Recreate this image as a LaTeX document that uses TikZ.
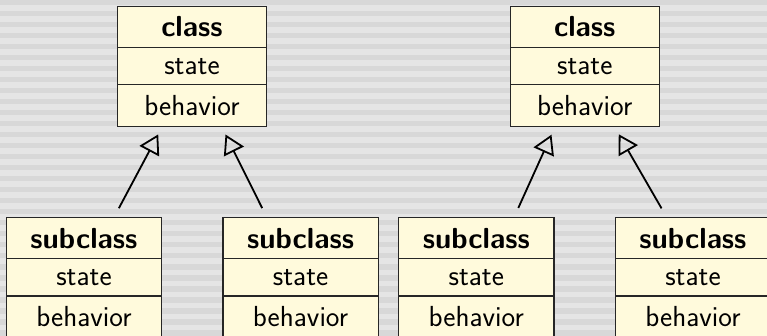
\documentclass[tikz,border=0pt]{standalone}
\usetikzlibrary{arrows.meta,calc}
\definecolor{boxfill}{RGB}{255,250,220}
\definecolor{stripeA}{RGB}{229,229,229}
\definecolor{stripeB}{RGB}{216,216,216}
\tikzset{
  comp/.style={draw=black!85, line width=1.2pt, fill=boxfill, inner sep=0pt, anchor=north west,
    font=\sffamily\fontsize{29}{34}\selectfont},
  topw/.style={comp, minimum width=149.3pt},
  botw/.style={comp, minimum width=155.3pt},
  ttl/.style={minimum height=41.6pt, font=\sffamily\bfseries\fontsize{29}{34}\selectfont},
  mid/.style={minimum height=37pt},
  low/.style={minimum height=41.4pt},
  inh/.style={line width=1.8pt, -{Triangle[open,length=19pt,width=22pt,line width=1.8pt]}},
}
\begin{document}
\begin{tikzpicture}[x=1pt,y=-1pt]
\useasboundingbox (0,0) rectangle (767,336);
\clip (0,0) rectangle (767,336);
\fill[stripeA] (0,0) rectangle (767,336);
\foreach \i in {0,...,31} \fill[stripeB] (0,\i*11) rectangle (767,\i*11+5.5);
% top-left class
\node[topw,ttl] (c1t) at (116.7,5.7) {class};
\node[topw,mid] (c1s) at (116.7,47.3) {state};
\node[topw,low] (c1b) at (116.7,84.3) {behavior};
% top-right class
\node[topw,ttl] (c2t) at (509.5,5.7) {class};
\node[topw,mid] (c2s) at (509.5,47.3) {state};
\node[topw,low] (c2b) at (509.5,84.3) {behavior};
% subclasses
\foreach \n/\x in {s1/5.7, s2/222.3, s3/398, s4/614.7}{
  \node[botw,ttl] (\n t) at (\x,216.7) {subclass};
  \node[botw,mid] (\n s) at (\x,258) {state};
  \node[botw,low] (\n b) at (\x,295.3) {behavior};
}
% inheritance arrows
\draw[inh, shorten <=9.6pt, shorten >=8.5pt] ([xshift=30.4pt]s1t.north) -- ([xshift=-29.75pt]c1b.south);
\draw[inh, shorten <=9.6pt, shorten >=8.5pt] ([xshift=-34.1pt]s2t.north) -- ([xshift=29.75pt]c1b.south);
\draw[inh, shorten <=9.6pt, shorten >=8.5pt] ([xshift=38.1pt]s3t.north) -- ([xshift=-29.75pt]c2b.south);
\draw[inh, shorten <=9.6pt, shorten >=8.5pt] ([xshift=-26.6pt]s4t.north) -- ([xshift=29.75pt]c2b.south);
\end{tikzpicture}
\end{document}
